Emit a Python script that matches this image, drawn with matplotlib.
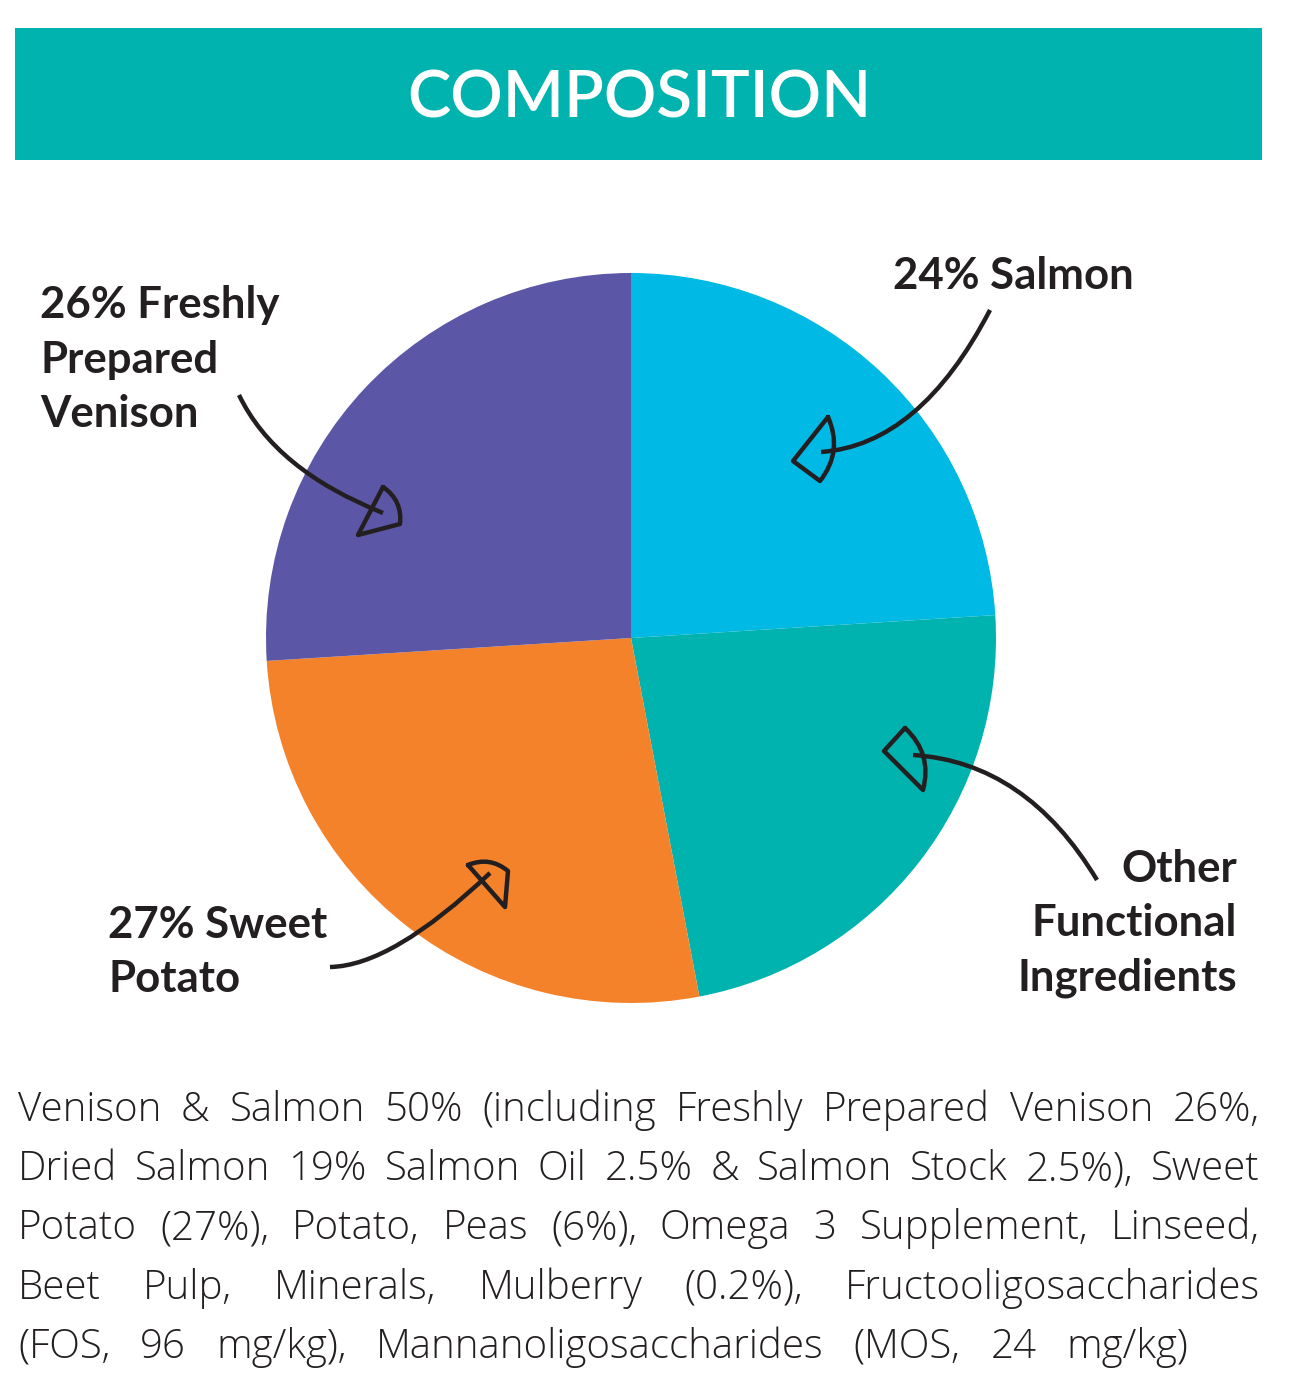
import matplotlib
matplotlib.use("Agg")
import matplotlib.pyplot as plt
import numpy as np
from matplotlib.patches import Rectangle, PathPatch
from matplotlib.path import Path

# ---------------- data ----------------
title = "COMPOSITION"
categories = ["Salmon", "Other Functional Ingredients", "Sweet Potato", "Freshly Prepared Venison"]
shares = [24, 23, 27, 26]
label_lines = [
    ["24% Salmon"],
    ["Other", "Functional", "Ingredients"],
    ["27% Sweet", "Potato"],
    ["26% Freshly", "Prepared", "Venison"],
]
slice_colors = ["#00B9E5", "#00B3AE", "#F3822A", "#5B57A6"]
body_lines = [
    "Venison & Salmon 50% (including Freshly Prepared Venison 26%,",
    "Dried Salmon 19% Salmon Oil 2.5% & Salmon Stock 2.5%), Sweet",
    "Potato (27%), Potato, Peas (6%), Omega 3 Supplement, Linseed,",
    "Beet Pulp, Minerals, Mulberry (0.2%), Fructooligosaccharides",
    "(FOS, 96 mg/kg), Mannanoligosaccharides (MOS, 24 mg/kg)",
]

# ---------------- figure ----------------
W, H = 1314, 1398
fig = plt.figure(figsize=(W / 100, H / 100), dpi=100)
ax = fig.add_axes([0, 0, 1, 1])

def Y(y):  # pixel-from-top -> data y
    return H - y

ink = "#231F20"
FONT = "Lato"

# pie
ax.pie(shares, colors=slice_colors, startangle=90, counterclock=False,
       center=(631, Y(638)), radius=365, wedgeprops=dict(linewidth=0))
ax.set_xlim(0, W)
ax.set_ylim(0, H)
ax.set_aspect("auto")
ax.axis("off")

# header band
ax.add_patch(Rectangle((15, Y(160)), 1247, 132, facecolor="#00B3AF", edgecolor="none"))
ax.text(639, Y(117), title, color="white", fontsize=47, fontfamily=FONT,
        fontweight="semibold", ha="center", va="baseline")

# labels: (x, first baseline, line step, ha)
label_layout = [
    (893, 289, 54, "left"),
    (1237, 882, 54, "right"),
    (108, 938, 54, "left"),
    (40, 318, 54.5, "left"),
]
for lines, (x, y0, step, ha) in zip(label_lines, label_layout):
    for i, ln in enumerate(lines):
        ax.text(x, Y(y0 + i * step), ln, color=ink, fontsize=31.5, fontfamily=FONT,
                fontweight="bold", ha=ha, va="baseline")

# arrows (curve + hollow head with one rounded side), decorative
arrows = [
    ((990, 310), (920, 445), (821, 452), [(828, 417), (793, 461), (820, 481)], 2),
    ((1097, 880), (1026, 762), (913, 755), [(905, 728), (884, 751), (923, 790)], 2),
    ((330, 967), (392, 966), (490, 873), [(468, 865), (508, 871), (505, 907)], 0),
    ((239, 395), (275, 470), (383, 513), [(383, 487), (400, 524), (358, 535)], 0),
]

def head_path(pts, round_side, bulge=0.3):
    P = np.array([(x, Y(y)) for x, y in pts], dtype=float)
    cen = P.mean(axis=0)
    verts, codes = [tuple(P[0])], [Path.MOVETO]
    for k in range(3):
        a, b = P[k], P[(k + 1) % 3]
        if k == round_side:
            m = (a + b) / 2
            d = b - a
            n = np.array([-d[1], d[0]])
            n /= np.linalg.norm(n)
            if np.dot(n, m - cen) < 0:
                n = -n
            c = m + n * bulge * np.linalg.norm(d)
            verts += [tuple(c), tuple(b)]
            codes += [Path.CURVE3, Path.CURVE3]
        else:
            verts.append(tuple(b))
            codes.append(Path.LINETO)
    codes[-1] = codes[-1]
    return Path(verts, codes)

for p0, c, p2, head, rs in arrows:
    path = Path([(p0[0], Y(p0[1])), (c[0], Y(c[1])), (p2[0], Y(p2[1]))],
                [Path.MOVETO, Path.CURVE3, Path.CURVE3])
    ax.add_patch(PathPatch(path, facecolor="none", edgecolor=ink, linewidth=3.2,
                           capstyle="butt"))
    ax.add_patch(PathPatch(head_path(head, rs), facecolor="none", edgecolor=ink,
                           linewidth=3.2, joinstyle="round", capstyle="round"))

# body paragraph (justified; last line spans its own width)
renderer = fig.canvas.get_renderer()
left = 18
line_right = [1260, 1260, 1260, 1260, 1188]
base0, lstep = 1121, 59.2
body_kw = dict(color=ink, fontsize=29, fontfamily="Open Sans", fontweight="light",
               va="baseline")
for i, ln in enumerate(body_lines):
    yb = Y(base0 + i * lstep)
    words = ln.split(" ")
    objs = [ax.text(0, yb, w, ha="left", **body_kw) for w in words]
    widths = [o.get_window_extent(renderer).width for o in objs]
    gap = (line_right[i] - left - sum(widths)) / (len(words) - 1)
    x = left
    for o, w in zip(objs, widths):
        o.set_x(x)
        x += w + gap

fig.savefig("out.png", dpi=100)
